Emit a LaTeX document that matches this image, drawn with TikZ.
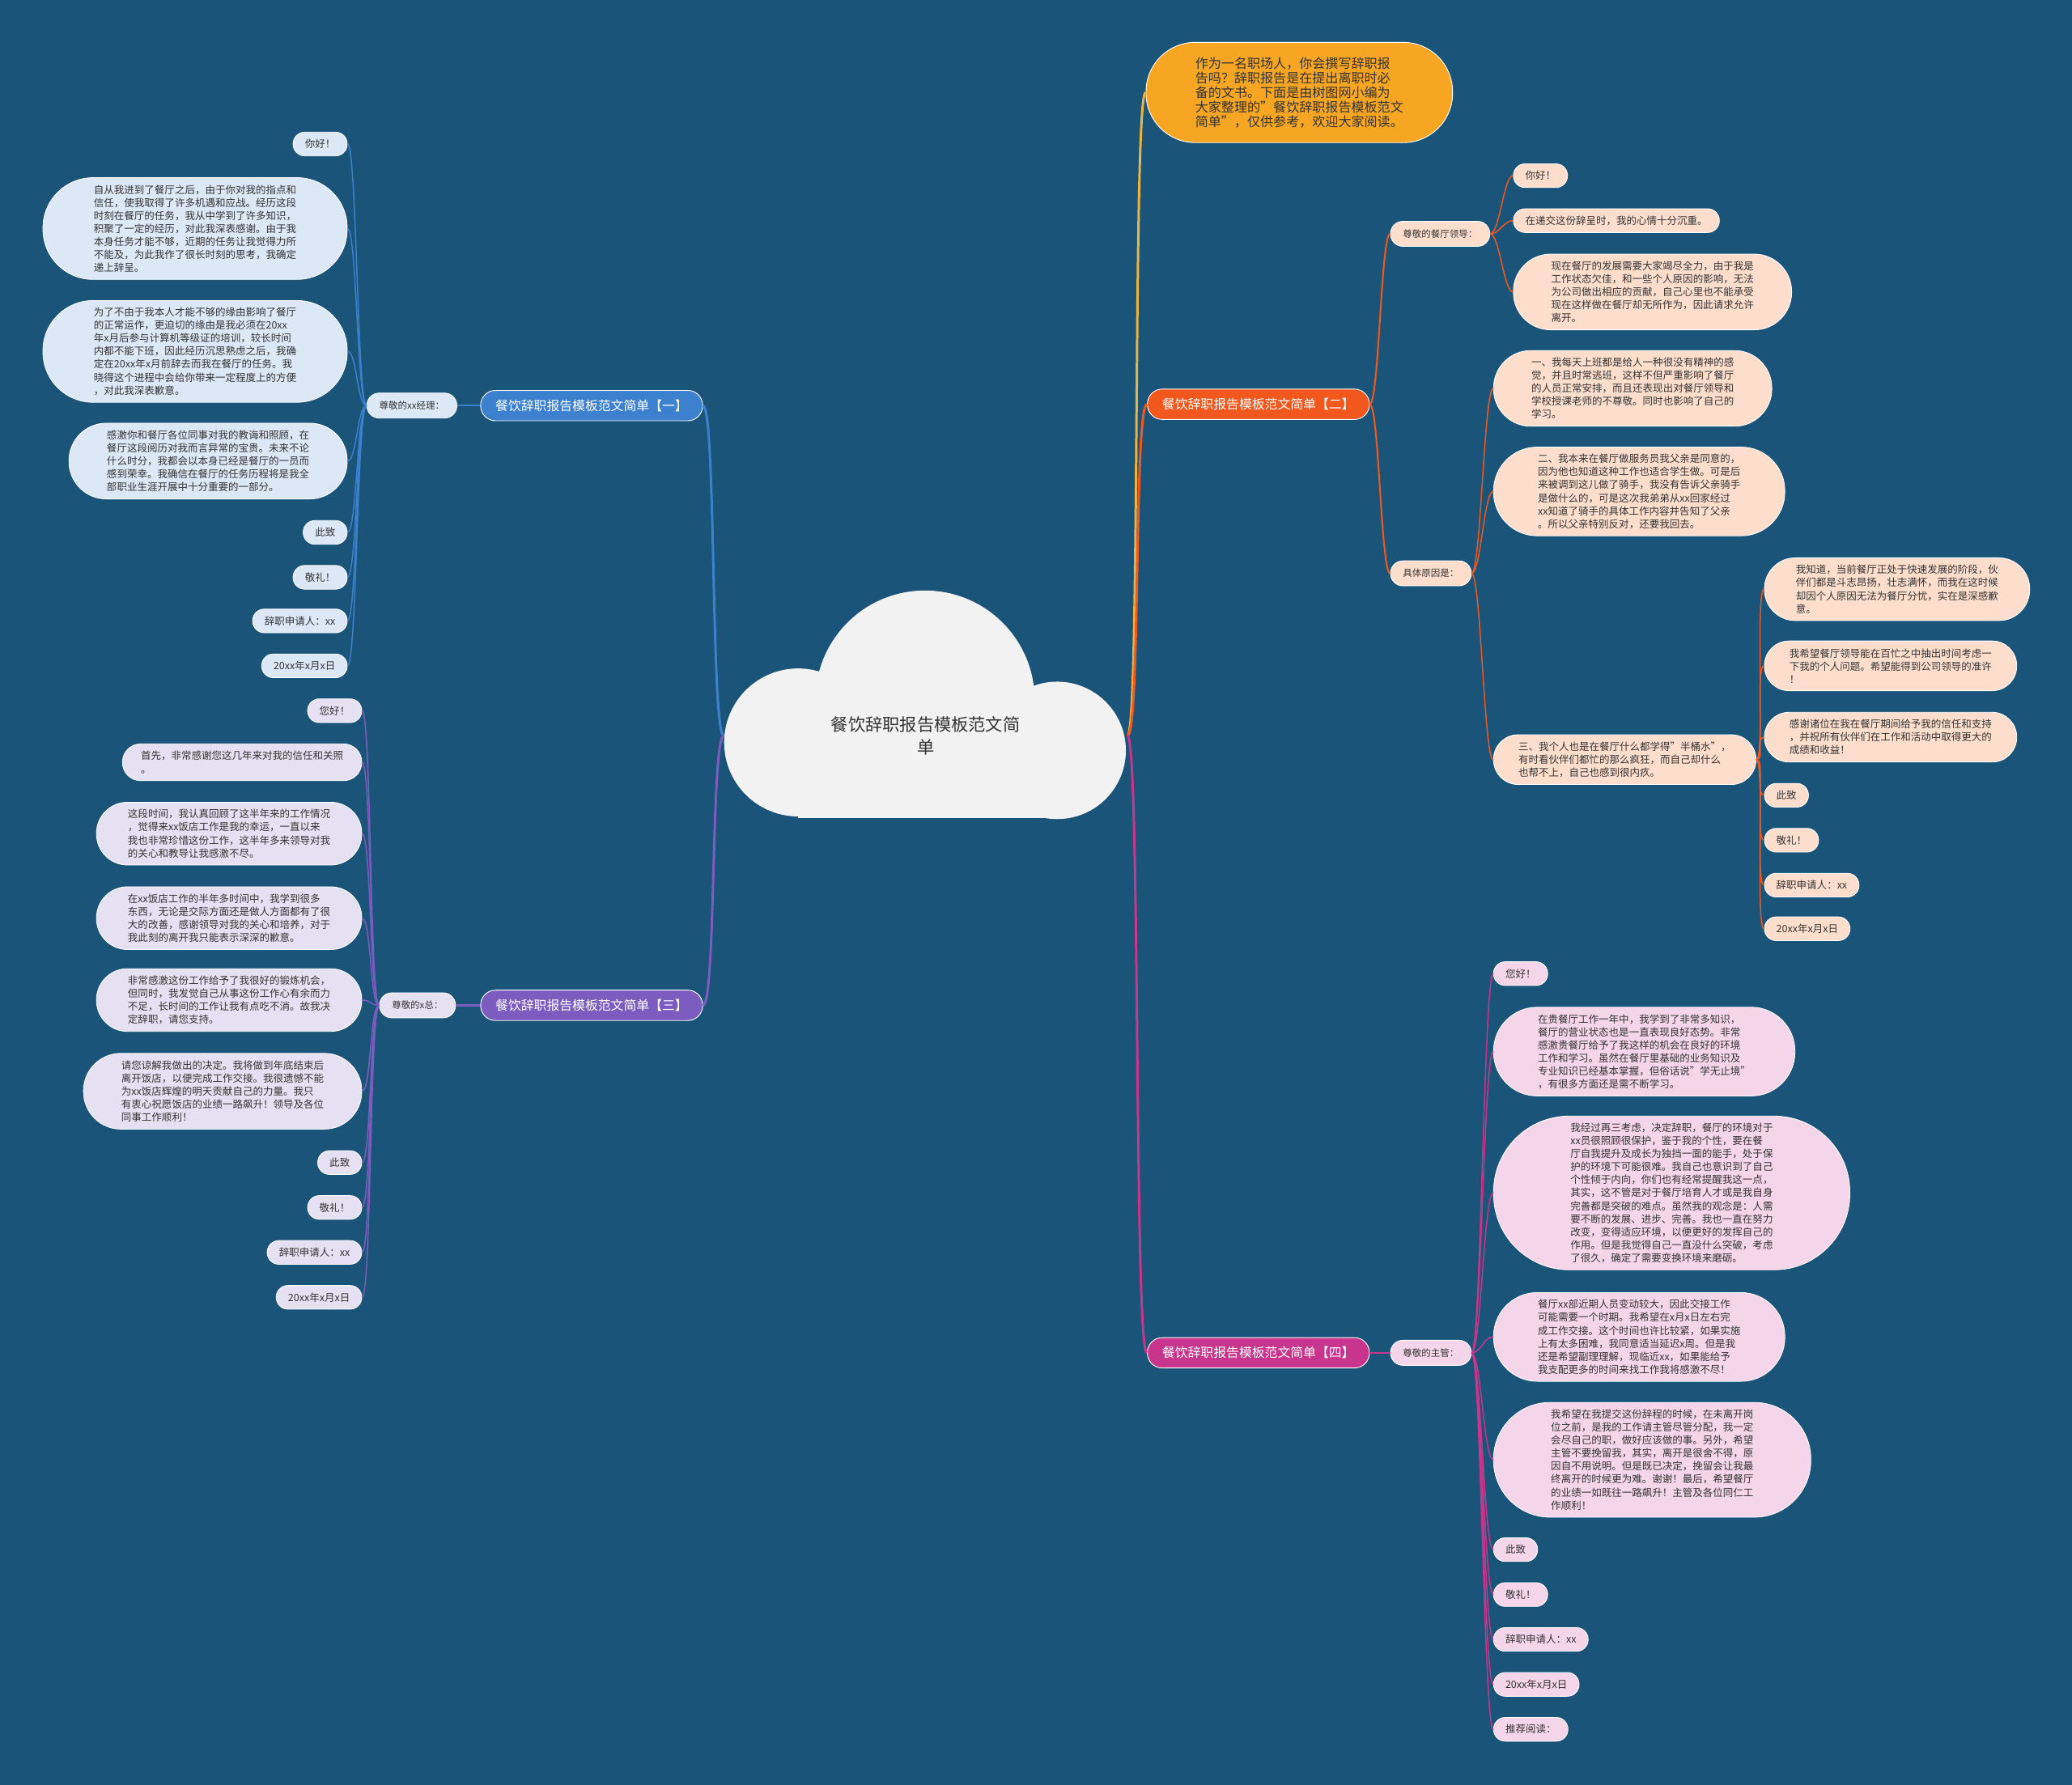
\documentclass[tikz,border=0pt]{standalone}
\usepackage{fontspec}
\setmainfont{Noto Sans CJK SC}
\usepackage{tikz}
\usetikzlibrary{shapes.misc}
\definecolor{fondo}{HTML}{1B5479}
\definecolor{nube}{HTML}{F2F2F2}
\definecolor{tinta}{HTML}{333333}
\definecolor{amarillo}{HTML}{F6A623}
\definecolor{lineaamarilla}{HTML}{E8B445}
\definecolor{azul}{HTML}{3D80CE}
\definecolor{azulclaro}{HTML}{DCE8F6}
\definecolor{morado}{HTML}{7D5CBF}
\definecolor{moradoclaro}{HTML}{E6E1F2}
\definecolor{naranja}{HTML}{F2571D}
\definecolor{naranjaclaro}{HTML}{FDDECD}
\definecolor{rosa}{HTML}{C7358D}
\definecolor{rosaclaro}{HTML}{F5D5EA}

\begin{document}
\begin{tikzpicture}[x=0.05cm, y=-0.05cm,
    hoja/.style={rectangle, draw=white, line width=0.7pt, inner ysep=3pt, align=left, text=tinta, font=\fontsize{10.9}{14}\selectfont,
      minimum height={25.6pt+14pt*(#1-1)}, rounded corners={12.6pt+6.9pt*(#1-1)}, inner xsep={12.8pt+7pt*(#1-1)}},
    hoja/.default=1,
    subnodo/.style={rectangle, draw=white, line width=0.7pt, inner ysep=3pt, inner xsep=13.5pt, minimum height=27pt, rounded corners=13.3pt, text=tinta, font=\fontsize{10}{12}\selectfont},
    rama/.style={rectangle, draw=white, line width=0.8pt, inner ysep=3pt, inner xsep=16pt, minimum height=32.7pt, rounded corners=16pt, text=white, font=\fontsize{13.8}{16}\selectfont},
    tronco/.style={line width=2.6pt},
    enlace/.style={line width=1.3pt}]
  % Fondo
  \fill[fondo] (0,0) rectangle (1568,1351);
  \useasboundingbox (0,0) rectangle (1568,1351);

  % Nube central
  \fill[nube] (604,562) circle (56);
  \fill[nube] (700,530) circle (83);
  \fill[nube] (800,568) circle (52);
  \fill[nube] (604,560) rectangle (800,619);
  \node[minimum width=434pt, align=center, text=tinta, font=\fontsize{18.5}{24}\selectfont] (raiz) at (700.5,557) {餐饮辞职报告模板范文简\\单};

  % Introduccion
  \node[rectangle, draw=white, line width=0.8pt, fill=amarillo, anchor=west, align=left, text=tinta, inner ysep=3pt, inner xsep=53pt, minimum height=108pt, rounded corners=53pt, font=\fontsize{14}{15.7}\selectfont] (intro) at (867,70) {作为一名职场人，你会撰写辞职报\\告吗？辞职报告是在提出离职时必\\备的文书。下面是由树图网小编为\\大家整理的"餐饮辞职报告模板范文\\简单"，仅供参考，欢迎大家阅读。};

  % Rama uno
  \node[rama, fill=azul, anchor=east] (rama1) at (532,307) {餐饮辞职报告模板范文简单【一】};
  \node[subnodo, fill=azulclaro, anchor=east] (sub1) at (346,307) {尊敬的xx经理：};
  \node[hoja, fill=azulclaro, anchor=east] (h1a) at (263,109) {你好！};
  \node[hoja=7, fill=azulclaro, anchor=east] (h1b) at (263,173) {自从我进到了餐厅之后，由于你对我的指点和\\信任，使我取得了许多机遇和应战。经历这段\\时刻在餐厅的任务，我从中学到了许多知识，\\积聚了一定的经历，对此我深表感谢。由于我\\本身任务才能不够，近期的任务让我觉得力所\\不能及，为此我作了很长时刻的思考，我确定\\递上辞呈。};
  \node[hoja=7, fill=azulclaro, anchor=east] (h1c) at (263,266) {为了不由于我本人才能不够的缘由影响了餐厅\\的正常运作，更迫切的缘由是我必须在20xx\\年x月后参与计算机等级证的培训，较长时间\\内都不能下班，因此经历沉思熟虑之后，我确\\定在20xx年x月前辞去而我在餐厅的任务。我\\晓得这个进程中会给你带来一定程度上的方便\\，对此我深表歉意。};
  \node[hoja=5, fill=azulclaro, anchor=east] (h1d) at (263,349) {感激你和餐厅各位同事对我的教诲和照顾，在\\餐厅这段阅历对我而言异常的宝贵。未来不论\\什么时分，我都会以本身已经是餐厅的一员而\\感到荣幸。我确信在餐厅的任务历程将是我全\\部职业生涯开展中十分重要的一部分。};
  \node[hoja, fill=azulclaro, anchor=east] (h1e) at (263,403) {此致};
  \node[hoja, fill=azulclaro, anchor=east] (h1f) at (263,437) {敬礼！};
  \node[hoja, fill=azulclaro, anchor=east] (h1g) at (263,470) {辞职申请人：xx};
  \node[hoja, fill=azulclaro, anchor=east] (h1h) at (263,504) {20xx年x月x日};

  % Rama tres
  \node[rama, fill=morado, anchor=east] (rama3) at (532,761) {餐饮辞职报告模板范文简单【三】};
  \node[subnodo, fill=moradoclaro, anchor=east] (sub3) at (345,761) {尊敬的x总：};
  \node[hoja, fill=moradoclaro, anchor=east] (h3a) at (274,538) {您好！};
  \node[hoja=2, fill=moradoclaro, anchor=east] (h3b) at (274,577) {首先，非常感谢您这几年来对我的信任和关照\\。};
  \node[hoja=4, fill=moradoclaro, anchor=east] (h3c) at (274,631) {这段时间，我认真回顾了这半年来的工作情况\\，觉得来xx饭店工作是我的幸运，一直以来\\我也非常珍惜这份工作，这半年多来领导对我\\的关心和教导让我感激不尽。};
  \node[hoja=4, fill=moradoclaro, anchor=east] (h3d) at (274,695) {在xx饭店工作的半年多时间中，我学到很多\\东西，无论是交际方面还是做人方面都有了很\\大的改善，感谢领导对我的关心和培养，对于\\我此刻的离开我只能表示深深的歉意。};
  \node[hoja=4, fill=moradoclaro, anchor=east] (h3e) at (274,757) {非常感激这份工作给予了我很好的锻炼机会，\\但同时，我发觉自己从事这份工作心有余而力\\不足，长时间的工作让我有点吃不消。故我决\\定辞职，请您支持。};
  \node[hoja=5, fill=moradoclaro, anchor=east] (h3f) at (274,826) {请您谅解我做出的决定。我将做到年底结束后\\离开饭店，以便完成工作交接。我很遗憾不能\\为xx饭店辉煌的明天贡献自己的力量。我只\\有衷心祝愿饭店的业绩一路飙升！领导及各位\\同事工作顺利！};
  \node[hoja, fill=moradoclaro, anchor=east] (h3g) at (274,880) {此致};
  \node[hoja, fill=moradoclaro, anchor=east] (h3h) at (274,914) {敬礼！};
  \node[hoja, fill=moradoclaro, anchor=east] (h3i) at (274,948) {辞职申请人：xx};
  \node[hoja, fill=moradoclaro, anchor=east] (h3j) at (274,982) {20xx年x月x日};

  % Rama dos
  \node[rama, fill=naranja, anchor=west] (rama2) at (868,306) {餐饮辞职报告模板范文简单【二】};
  \node[subnodo, fill=naranjaclaro, anchor=west] (sub2a) at (1052,177) {尊敬的餐厅领导：};
  \node[subnodo, fill=naranjaclaro, anchor=west] (sub2b) at (1052,434) {具体原因是：};
  \node[hoja, fill=naranjaclaro, anchor=west] (h2a) at (1145,133) {你好！};
  \node[hoja, fill=naranjaclaro, anchor=west] (h2b) at (1145,167) {在递交这份辞呈时，我的心情十分沉重。};
  \node[hoja=5, fill=naranjaclaro, anchor=west] (h2c) at (1145,221) {现在餐厅的发展需要大家竭尽全力，由于我是\\工作状态欠佳，和一些个人原因的影响，无法\\为公司做出相应的贡献，自己心里也不能承受\\现在这样做在餐厅却无所作为，因此请求允许\\离开。};
  \node[hoja=5, fill=naranjaclaro, anchor=west] (h2d) at (1130,294) {一、我每天上班都是给人一种很没有精神的感\\觉，并且时常逃班，这样不但严重影响了餐厅\\的人员正常安排，而且还表现出对餐厅领导和\\学校授课老师的不尊敬。同时也影响了自己的\\学习。};
  \node[hoja=6, fill=naranjaclaro, anchor=west] (h2e) at (1130,372) {二、我本来在餐厅做服务员我父亲是同意的，\\因为他也知道这种工作也适合学生做。可是后\\来被调到这儿做了骑手，我没有告诉父亲骑手\\是做什么的，可是这次我弟弟从xx回家经过\\xx知道了骑手的具体工作内容并告知了父亲\\。所以父亲特别反对，还要我回去。};
  \node[hoja=3, fill=naranjaclaro, anchor=west] (h2f) at (1130,575) {三、我个人也是在餐厅什么都学得"半桶水"，\\有时看伙伴们都忙的那么疯狂，而自己却什么\\也帮不上，自己也感到很内疚。};
  \node[hoja=4, fill=naranjaclaro, anchor=west] (h2g) at (1335,446) {我知道，当前餐厅正处于快速发展的阶段，伙\\伴们都是斗志昂扬，壮志满怀，而我在这时候\\却因个人原因无法为餐厅分忧，实在是深感歉\\意。};
  \node[hoja=3, fill=naranjaclaro, anchor=west] (h2h) at (1335,504) {我希望餐厅领导能在百忙之中抽出时间考虑一\\下我的个人问题。希望能得到公司领导的准许\\！};
  \node[hoja=3, fill=naranjaclaro, anchor=west] (h2i) at (1335,558) {感谢诸位在我在餐厅期间给予我的信任和支持\\，并祝所有伙伴们在工作和活动中取得更大的\\成绩和收益！};
  \node[hoja, fill=naranjaclaro, anchor=west] (h2j) at (1335,602) {此致};
  \node[hoja, fill=naranjaclaro, anchor=west] (h2k) at (1335,636) {敬礼！};
  \node[hoja, fill=naranjaclaro, anchor=west] (h2l) at (1335,670) {辞职申请人：xx};
  \node[hoja, fill=naranjaclaro, anchor=west] (h2m) at (1335,703) {20xx年x月x日};

  % Rama cuatro
  \node[rama, fill=rosa, anchor=west] (rama4) at (868,1024) {餐饮辞职报告模板范文简单【四】};
  \node[subnodo, fill=rosaclaro, anchor=west] (sub4) at (1052,1024) {尊敬的主管：};
  \node[hoja, fill=rosaclaro, anchor=west] (h4a) at (1130,737) {您好！};
  \node[hoja=6, fill=rosaclaro, anchor=west] (h4b) at (1130,796) {在贵餐厅工作一年中，我学到了非常多知识，\\餐厅的营业状态也是一直表现良好态势。非常\\感激贵餐厅给予了我这样的机会在良好的环境\\工作和学习。虽然在餐厅里基础的业务知识及\\专业知识已经基本掌握，但俗话说"学无止境"\\，有很多方面还是需不断学习。};
  \node[hoja=11, fill=rosaclaro, anchor=west] (h4c) at (1130,903) {我经过再三考虑，决定辞职，餐厅的环境对于\\xx员很照顾很保护，鉴于我的个性，要在餐\\厅自我提升及成长为独挡一面的能手，处于保\\护的环境下可能很难。我自己也意识到了自己\\个性倾于内向，你们也有经常提醒我这一点，\\其实，这不管是对于餐厅培育人才或是我自身\\完善都是突破的难点。虽然我的观念是：人需\\要不断的发展、进步、完善。我也一直在努力\\改变，变得适应环境，以便更好的发挥自己的\\作用。但是我觉得自己一直没什么突破，考虑\\了很久，确定了需要变换环境来磨砺。};
  \node[hoja=6, fill=rosaclaro, anchor=west] (h4d) at (1130,1012) {餐厅xx部近期人员变动较大，因此交接工作\\可能需要一个时期。我希望在x月x日左右完\\成工作交接。这个时间也许比较紧，如果实施\\上有太多困难，我同意适当延迟x周。但是我\\还是希望副理理解，现临近xx，如果能给予\\我支配更多的时间来找工作我将感激不尽！};
  \node[hoja=8, fill=rosaclaro, anchor=west] (h4e) at (1130,1105) {我希望在我提交这份辞程的时候，在未离开岗\\位之前，是我的工作请主管尽管分配，我一定\\会尽自己的职，做好应该做的事。另外，希望\\主管不要挽留我，其实，离开是很舍不得，原\\因自不用说明。但是既已决定，挽留会让我最\\终离开的时候更为难。谢谢！最后，希望餐厅\\的业绩一如既往一路飙升！主管及各位同仁工\\作顺利！};
  \node[hoja, fill=rosaclaro, anchor=west] (h4f) at (1130,1173) {此致};
  \node[hoja, fill=rosaclaro, anchor=west] (h4g) at (1130,1207) {敬礼！};
  \node[hoja, fill=rosaclaro, anchor=west] (h4h) at (1130,1241) {辞职申请人：xx};
  \node[hoja, fill=rosaclaro, anchor=west] (h4i) at (1130,1275) {20xx年x月x日};
  \node[hoja, fill=rosaclaro, anchor=west] (h4j) at (1130,1309) {推荐阅读：};

  % Troncos desde la nube
  \draw[tronco, lineaamarilla] (raiz.east) .. controls +(10,0) and +(-10,0) .. (intro.west);
  \draw[tronco, naranja] (raiz.east) .. controls +(10,0) and +(-10,0) .. (rama2.west);
  \draw[tronco, rosa] (raiz.east) .. controls +(10,0) and +(-10,0) .. (rama4.west);
  \draw[tronco, azul] (raiz.west) .. controls +(-10,0) and +(10,0) .. (rama1.east);
  \draw[tronco, morado] (raiz.west) .. controls +(-10,0) and +(10,0) .. (rama3.east);

  % Enlaces de las ramas
  \draw[enlace, azul, line width=1.8pt] (rama1.west) -- (sub1.east);
  \draw[enlace, morado, line width=1.8pt] (rama3.west) -- (sub3.east);
  \draw[enlace, rosa, line width=1.8pt] (rama4.east) -- (sub4.west);
  \foreach \s in {sub2a,sub2b}
    \draw[enlace, naranja, line width=1.8pt] (rama2.east) .. controls +(7,0) and +(-7,0) .. (\s.west);
  \foreach \h in {h1a,h1b,h1c,h1d,h1e,h1f,h1g,h1h}
    \draw[enlace, azul] (sub1.west) .. controls +(-7,0) and +(7,0) .. (\h.east);
  \foreach \h in {h3a,h3b,h3c,h3d,h3e,h3f,h3g,h3h,h3i,h3j}
    \draw[enlace, morado] (sub3.west) .. controls +(-7,0) and +(7,0) .. (\h.east);
  \foreach \h in {h2a,h2b,h2c}
    \draw[enlace, naranja] (sub2a.east) .. controls +(7,0) and +(-7,0) .. (\h.west);
  \foreach \h in {h2d,h2e,h2f}
    \draw[enlace, naranja] (sub2b.east) .. controls +(7,0) and +(-7,0) .. (\h.west);
  \foreach \h in {h2g,h2h,h2i,h2j,h2k,h2l,h2m}
    \draw[enlace, naranja] (h2f.east) .. controls +(7,0) and +(-7,0) .. (\h.west);
  \foreach \h in {h4a,h4b,h4c,h4d,h4e,h4f,h4g,h4h,h4i,h4j}
    \draw[enlace, rosa] (sub4.east) .. controls +(7,0) and +(-7,0) .. (\h.west);
\end{tikzpicture}
\end{document}
